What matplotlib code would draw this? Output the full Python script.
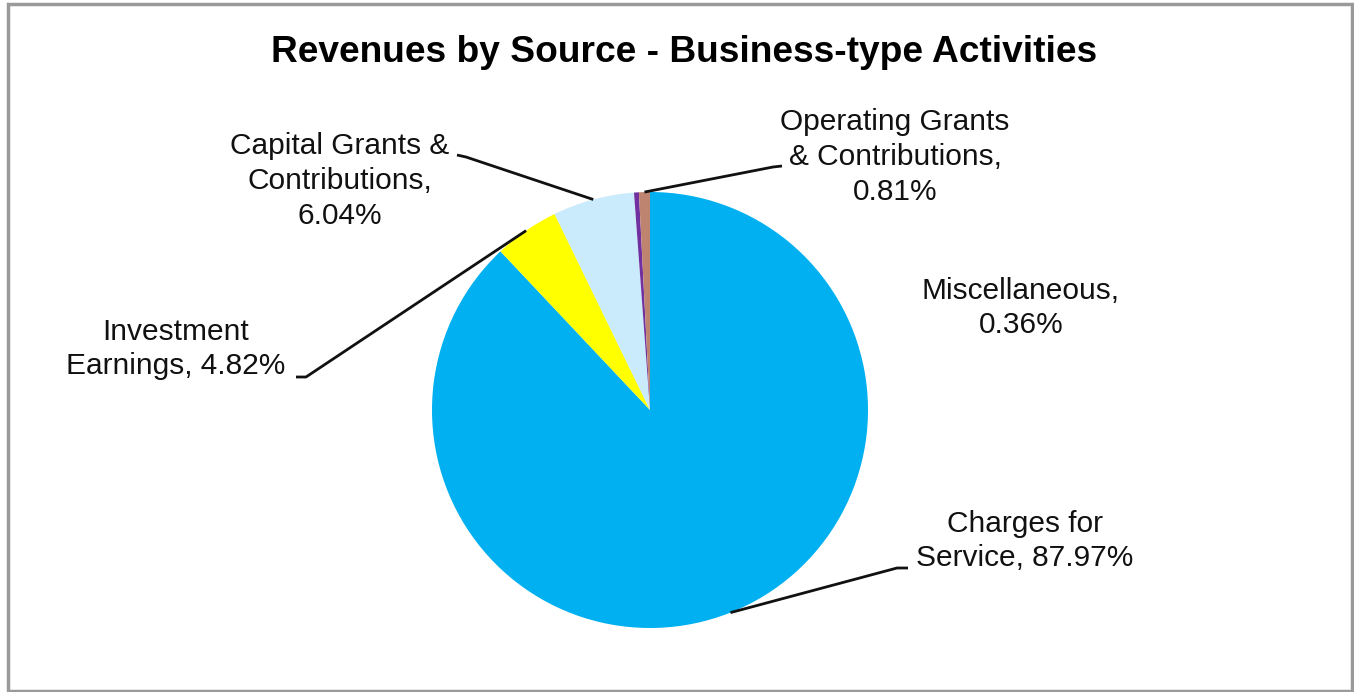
import numpy as np
import matplotlib
matplotlib.use("Agg")
import matplotlib.pyplot as plt
from matplotlib.patches import Rectangle

plt.rcParams['font.family'] = ['Liberation Sans', 'DejaVu Sans']

# Revenue shares, clockwise from 12 o'clock
categories = ["Charges for Service", "Investment Earnings", "Capital Grants & Contributions",
              "Miscellaneous", "Operating Grants & Contributions"]
shares = [87.97, 4.82, 6.04, 0.36, 0.81]
label_texts = ["Charges for\nService, 87.97%",
               "Investment\nEarnings, 4.82%",
               "Capital Grants &\nContributions,\n6.04%",
               "Miscellaneous,\n0.36%",
               "Operating Grants\n& Contributions,\n0.81%"]
colors = ["#00B0F0", "#FFFF00", "#C9EBFB", "#7030A0", "#BE8470"]

W, H = 1354, 692
fig = plt.figure(figsize=(W / 100, H / 100), dpi=100)
ax = fig.add_axes([0, 0, 1, 1])

cx, cy, r = 650, H - 410, 218
wedges, _ = ax.pie(shares, colors=colors, startangle=90, counterclock=False,
                   center=(cx, cy), radius=r, frame=True,
                   wedgeprops=dict(linewidth=0))
ax.set_xlim(0, W)
ax.set_ylim(0, H)
ax.set_aspect("equal")
ax.axis("off")

# label anchor (text centre) and leader elbow near the text, or None
label_pos = [
    ((1025, H - 541), [(908, H - 568), (897, H - 568)]),
    ((176, H - 349), [(296, H - 377), (306, H - 377)]),
    ((340, H - 181), [(457, H - 155), (466, H - 157)]),
    ((1021, H - 308), None),
    ((895, H - 157), [(782, H - 166), (773, H - 167)]),
]

for w, txt, (pos, elbow) in zip(wedges, label_texts, label_pos):
    ax.text(pos[0], pos[1], txt, ha="center", va="center", fontsize=21.5,
            linespacing=1.3, color="#111111")
    if elbow is not None:
        mid = np.deg2rad((w.theta1 + w.theta2) / 2)
        ex, ey = cx + r * np.cos(mid), cy + r * np.sin(mid)
        xs = [elbow[0][0], elbow[1][0], ex]
        ys = [elbow[0][1], elbow[1][1], ey]
        ax.plot(xs, ys, color="#111111", lw=2.0, solid_capstyle="butt")

ax.text(684, H - 52, "Revenues by Source - Business-type Activities",
        ha="center", va="center", fontsize=26.7, fontweight="bold", color="black")

# chart frame
ax.add_patch(Rectangle((8, 1.5), 1344, H - 5.5, fill=False, edgecolor="#9A9A9A",
                       lw=2.5, clip_on=False))

fig.savefig("out.png", dpi=100)
